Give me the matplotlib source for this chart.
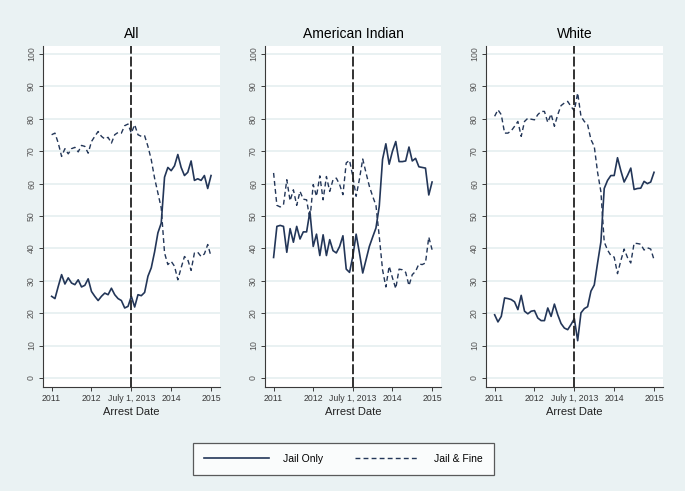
import matplotlib
matplotlib.use("Agg")
import matplotlib.pyplot as plt
import numpy as np

plt.rcParams['font.family'] = ['Liberation Sans', 'DejaVu Sans']

# monthly share of sentences (percent), Jan 2011 .. Jan 2015
months = np.arange(49)
tick_pos = [0, 12, 24, 36, 48]
tick_labels = ['2011', '2012', 'July 1, 2013', '2014', '2015']
cutoff = 24

all_jail = [25.2, 24.5, 28.3, 31.9, 29, 30.9, 29.3, 28.8, 30.3, 28.1,
            28.6, 30.6, 26.7, 25.2, 23.9, 25.2, 26.2, 25.7, 27.7, 25.7,
            24.5, 23.9, 21.6, 22.1, 25.2, 21.9, 25.7, 25.4, 26.4, 31.4,
            34, 38.9, 44.8, 47.8, 62, 65, 64, 65.5, 69, 65,
            62.5, 63.5, 67, 61, 61.5, 61, 62.5, 58.5, 62.5]
all_fine = [75.1, 75.6, 72.5, 68.4, 70.8, 69.2, 70.8, 71.2, 69.8, 71.8,
            71.5, 69.4, 73, 74.6, 76.1, 74.6, 73.8, 74.3, 72.5, 75.1,
            75.8, 75.6, 77.9, 78.4, 75.6, 78.2, 75.1, 74.6, 74.8, 71.5,
            67.4, 61.7, 57.1, 52.5, 38.6, 35, 36, 34.5, 30.3, 34,
            37.5, 36.5, 33.2, 38.6, 38.8, 37.5, 38.3, 41.2, 37.5]

ai_jail = [37.2, 46.8, 47.1, 46.8, 38.8, 46.1, 41.9, 46.8, 42.9, 45.1,
           45.1, 51.4, 40.6, 44.4, 37.8, 44.2, 37.8, 42.7, 39.3, 38.6,
           40.6, 43.9, 33.6, 32.6, 37.6, 44.4, 38.6, 32.4, 36.5, 40.6,
           43.5, 46.3, 53, 67.5, 72.3, 66, 70, 73, 66.8, 66.8,
           67, 71.3, 67, 67.8, 65.2, 65, 64.8, 56.5, 60.5]
ai_fine = [63.3, 53.3, 52.8, 53.5, 61.2, 54.7, 58.1, 53.3, 57.6, 55.2,
           55, 48.9, 59.7, 56.1, 62.4, 55, 62.2, 57.6, 61.2, 61.7,
           59.7, 56.6, 66.4, 67.2, 62.2, 56.1, 61.4, 67.6, 63.3, 59.2,
           56.1, 53.3, 43.7, 33.4, 28.1, 34.5, 30.9, 27.6, 33.6, 33.4,
           32.6, 28.5, 31.9, 32.9, 35.2, 35, 35.5, 43.5, 39.6]

white_jail = [19.5, 17.3, 19, 24.7, 24.5, 24.2, 23.5, 21.1, 25.5, 20.6,
              19.8, 20.6, 20.8, 18.5, 17.7, 17.7, 21.6, 19, 22.8, 19.5,
              16.8, 15.4, 14.9, 16.5, 18.3, 11.5, 20.1, 21.4, 22, 26.8,
              28.7, 35.5, 42, 58.5, 61, 62.5, 62.5, 68, 64, 60.5,
              62.5, 64.8, 58.2, 58.5, 58.6, 60.7, 60, 60.5, 63.5]
white_fine = [80.8, 82.8, 81.3, 75.6, 75.6, 76.3, 77.7, 79.2, 74.6, 79.2,
              80.2, 79.9, 79.7, 81.3, 82.3, 82.3, 78.9, 81.5, 77.7, 81.3,
              84.1, 84.9, 85.4, 83.8, 82.5, 88, 80.8, 79.2, 78.2, 73.6,
              71.5, 63.5, 57.5, 42, 39.5, 37.8, 37.3, 32.2, 36.2, 39.8,
              37.2, 35.5, 41.6, 41.5, 41.3, 39.5, 40.2, 39.8, 36.5]

titles = ['All', 'American Indian', 'White']
jail = [all_jail, ai_jail, white_jail]
fine = [all_fine, ai_fine, white_fine]

bg = '#eaf2f3'
navy = '#233658'
W, H = 685, 491
lefts = [43, 265, 486]
widths = [177, 176, 177]

fig = plt.figure(figsize=(W / 100, H / 100), dpi=100, facecolor=bg)

for i in range(3):
    ax = fig.add_axes([lefts[i] / W, 1 - 387 / H, widths[i] / W, 341 / H])
    ax.set_facecolor('white')
    ax.set_xlim(-2.6, 50.7)
    ax.set_ylim(-2.8, 102.5)
    ax.set_yticks(np.arange(0, 101, 10))
    ax.yaxis.grid(True, color='#e3edef', lw=1.1)
    ax.set_axisbelow(True)
    l1, = ax.plot(months, jail[i], color=navy, lw=1.2, label='Jail Only')
    l2, = ax.plot(months, fine[i], color=navy, lw=1.0, dashes=(3.5, 2.3), label='Jail & Fine')
    ax.axvline(cutoff, color='#222222', lw=1.3, dashes=(5.5, 1.6))
    ax.set_xticks(tick_pos)
    ax.set_xticklabels(tick_labels)
    for s in ['top', 'right']:
        ax.spines[s].set_visible(False)
    for s in ['left', 'bottom']:
        ax.spines[s].set_color('#3a3a3a')
        ax.spines[s].set_linewidth(0.8)
    ax.tick_params(axis='both', labelsize=6.3, colors='#3a3a3a', length=3, width=0.7, pad=2)
    ax.tick_params(axis='y', labelcolor='#555555')
    for lab in ax.get_yticklabels():
        lab.set_rotation(90)
        lab.set_va('center')
    ax.set_title(titles[i], fontsize=10, pad=6)
    ax.set_xlabel('Arrest Date', fontsize=8, labelpad=3, color='#222222')

leg = fig.legend([l1, l2], ['Jail Only', 'Jail & Fine'], loc='center',
                 bbox_to_anchor=(343.5 / W, 1 - 459 / H), ncol=2, fontsize=7.5,
                 handlelength=6.2, handletextpad=1.4, columnspacing=3.0,
                 borderpad=1.05, frameon=True, fancybox=False, borderaxespad=0)
leg.get_frame().set_edgecolor('#333333')
leg.get_frame().set_linewidth(0.9)
leg.get_frame().set_facecolor('white')

fig.savefig('out.png', dpi=100, facecolor=bg)
